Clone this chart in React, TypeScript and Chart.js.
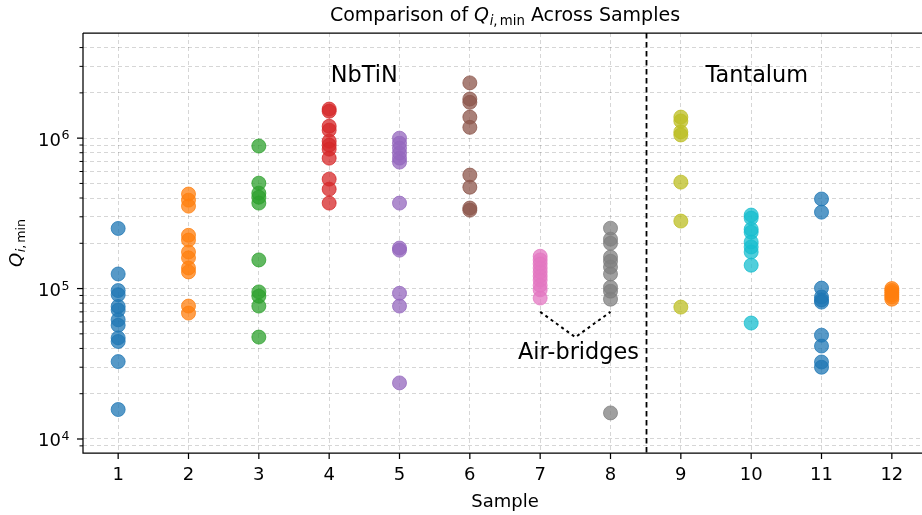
import React, { useEffect, useRef } from "react";
import { Chart, registerables } from "chart.js";

Chart.register(...registerables);

// ---------------- data ----------------
const sampleTicks = ["1", "2", "3", "4", "5", "6", "7", "8", "9", "10", "11", "12"];

const s1 = [251000, 125000, 97000, 91000, 76000, 72000, 62000, 57000, 47000, 44500, 32700, 15700];
const s2 = [425000, 387000, 353000, 226000, 210000, 175000, 160000, 137000, 129000, 76500, 68700];
const s3 = [886000, 502000, 431000, 405000, 370000, 155000, 95000, 89000, 76500, 47600];
const s4 = [1560000, 1510000, 1200000, 1130000, 955000, 899000, 845000, 736000, 534000, 458000, 370000];
const s5 = [1000000, 926000, 858000, 795000, 736000, 693000, 370000, 186000, 180000, 93000, 76500, 23600];
const s6 = [2330000, 1820000, 1730000, 1380000, 1180000, 568000, 472000, 343000, 332000];
const s7 = [164000, 155000, 146000, 137000, 129000, 121000, 114000, 105000, 98000, 86500];
const s8 = [252000, 213000, 200000, 162000, 152000, 139000, 125000, 102000, 96000, 85000, 14900];
const s9 = [1380000, 1300000, 1100000, 1050000, 510000, 281000, 75300];
const s10 = [308000, 294000, 248000, 237000, 204000, 189000, 175000, 143000, 59000];
const s11 = [394000, 322000, 100700, 87900, 84000, 81300, 49000, 41500, 32500, 30000];
const s12 = [100000, 97000, 94000, 91000, 88000, 85000];

const seriesValues = [s1, s2, s3, s4, s5, s6, s7, s8, s9, s10, s11, s12];
const seriesColors = [
  "31,119,180", "255,127,14", "44,160,44", "214,39,40", "148,103,189", "140,86,75",
  "227,119,194", "127,127,127", "188,189,34", "23,190,207", "31,119,180", "255,127,14",
];

const yTickExponents = [4, 5, 6];
const groupLabels = ["NbTiN", "Tantalum"];
const groupLabelX = [4.5, 10.08];
const groupLabelY = 2.35e6;
const airBridgeLabel = "Air-bridges";
const airBridgeLabelPos = [7.545, 3.4e4];
const airBridgePathX = [7, 7.5, 8];
const airBridgePathY = [7.0e4, 4.75e4, 7.0e4];
const dividerX = 8.5;
const titlePrefix = "Comparison of ";
const titleSuffix = " Across Samples";
const xAxisLabel = "Sample";

// ---------------- layout ----------------
const W = 940;
const H = 515;
const FONT = "'DejaVu Sans', sans-serif";
const GRID = "rgba(0,0,0,0.16)";

type Run = { t: string; font: string; dy: number; pad?: number };

function drawRuns(ctx: CanvasRenderingContext2D, runs: Run[], x: number, y: number, align: string) {
  const widths = runs.map((r) => {
    ctx.font = r.font;
    return ctx.measureText(r.t).width + (r.pad || 0);
  });
  const total = widths.reduce((a, b) => a + b, 0);
  let cx = align === "center" ? x - total / 2 : align === "right" ? x - total : x;
  ctx.textAlign = "left";
  ctx.textBaseline = "alphabetic";
  runs.forEach((r, i) => {
    ctx.font = r.font;
    ctx.fillText(r.t, cx, y + r.dy);
    cx += widths[i];
  });
}

function qRuns(size: number): Run[] {
  const sub = size * 0.7;
  const dy = size * 0.22;
  return [
    { t: "Q", font: `italic ${size}px ${FONT}`, dy: 0, pad: size * 0.03 },
    { t: "i", font: `italic ${sub}px ${FONT}`, dy },
    { t: ",", font: `${sub}px ${FONT}`, dy, pad: sub * 0.17 },
    { t: "min", font: `${sub}px ${FONT}`, dy },
  ];
}

const overlay = {
  id: "overlay",
  afterDatasetsDraw(chart: any) {
    const { ctx, chartArea: a, scales } = chart;
    const xs = scales.x;
    const ys = scales.y;
    ctx.save();
    ctx.fillStyle = "#000";
    ctx.strokeStyle = "#000";

    // divider
    ctx.lineWidth = 1.8;
    ctx.setLineDash([5.5, 3.5]);
    const dx = Math.round(xs.getPixelForValue(dividerX)) + 0.5;
    ctx.beginPath();
    ctx.moveTo(dx, a.top);
    ctx.lineTo(dx, a.bottom);
    ctx.stroke();

    // air-bridge pointer
    ctx.lineWidth = 2;
    ctx.setLineDash([3, 3.5]);
    ctx.beginPath();
    airBridgePathX.forEach((v, i) => {
      const px = xs.getPixelForValue(v);
      const py = ys.getPixelForValue(airBridgePathY[i]);
      if (i === 0) ctx.moveTo(px, py);
      else ctx.lineTo(px, py);
    });
    ctx.stroke();
    ctx.setLineDash([]);

    // annotations
    ctx.font = `22.4px ${FONT}`;
    ctx.textAlign = "center";
    ctx.textBaseline = "alphabetic";
    groupLabels.forEach((t, i) => {
      ctx.fillText(t, xs.getPixelForValue(groupLabelX[i]), ys.getPixelForValue(groupLabelY));
    });
    ctx.fillText(airBridgeLabel, xs.getPixelForValue(airBridgeLabelPos[0]), ys.getPixelForValue(airBridgeLabelPos[1]));

    // spines
    ctx.lineWidth = 1.25;
    ctx.beginPath();
    ctx.moveTo(a.left, a.top);
    ctx.lineTo(a.right, a.top);
    ctx.moveTo(a.left, a.top);
    ctx.lineTo(a.left, a.bottom);
    ctx.lineTo(a.right, a.bottom);
    ctx.stroke();

    // x ticks
    ctx.font = `18px ${FONT}`;
    ctx.textAlign = "center";
    sampleTicks.forEach((lab, i) => {
      const px = xs.getPixelForValue(i + 1);
      ctx.beginPath();
      ctx.moveTo(px, a.bottom);
      ctx.lineTo(px, a.bottom + 6);
      ctx.stroke();
      ctx.fillText(lab, px, a.bottom + 27);
    });

    // y ticks
    ys.ticks.forEach((t: any) => {
      const v = t.value;
      const e = Math.log10(v);
      const major = Math.abs(e - Math.round(e)) < 1e-9;
      const py = ys.getPixelForValue(v);
      ctx.lineWidth = major ? 1.25 : 1;
      ctx.beginPath();
      ctx.moveTo(a.left - (major ? 6 : 3.5), py);
      ctx.lineTo(a.left, py);
      ctx.stroke();
    });
    yTickExponents.forEach((ex) => {
      const py = ys.getPixelForValue(Math.pow(10, ex));
      drawRuns(
        ctx,
        [
          { t: "10", font: `18px ${FONT}`, dy: 0, pad: 0.5 },
          { t: String(ex), font: `12.6px ${FONT}`, dy: -6.5 },
        ],
        a.left - 13.5,
        py + 7.5,
        "right"
      );
    });

    // axis labels
    ctx.font = `18px ${FONT}`;
    ctx.textAlign = "center";
    ctx.fillText(xAxisLabel, (a.left + a.right) / 2, 506.5);

    ctx.save();
    ctx.translate(21.5, (a.top + a.bottom) / 2);
    ctx.rotate(-Math.PI / 2);
    drawRuns(ctx, qRuns(18), 0, 0, "center");
    ctx.restore();

    // title
    const tsize = 19;
    const titleRuns: Run[] = [
      { t: titlePrefix, font: `${tsize}px ${FONT}`, dy: 0 },
      ...qRuns(tsize),
      { t: titleSuffix, font: `${tsize}px ${FONT}`, dy: 0 },
    ];
    drawRuns(ctx, titleRuns, (a.left + a.right) / 2, 20.5, "center");

    ctx.restore();
  },
};

export default function App() {
  const ref = useRef<HTMLCanvasElement | null>(null);

  useEffect(() => {
    if (!ref.current) return;
    const datasets = seriesValues.map((vals, i) => ({
      label: sampleTicks[i],
      data: vals.map((v) => ({ x: i + 1, y: v })),
      backgroundColor: `rgba(${seriesColors[i]},0.75)`,
      borderColor: `rgba(${seriesColors[i]},0.75)`,
      borderWidth: 1,
      pointRadius: 7,
      pointHoverRadius: 7,
    }));

    const chart = new Chart(ref.current, {
      type: "scatter",
      data: { datasets },
      options: {
        responsive: false,
        animation: false,
        devicePixelRatio: 1,
        events: [],
        layout: { padding: { top: 33, right: W - 927, left: 0, bottom: 0 } },
        plugins: {
          legend: { display: false },
          tooltip: { enabled: false },
          title: { display: false },
        },
        scales: {
          x: {
            type: "linear",
            min: 0.5,
            max: 12.5,
            afterBuildTicks: (s: any) => {
              s.ticks = sampleTicks.map((_, i) => ({ value: i + 1 }));
            },
            ticks: { display: false },
            grid: { color: GRID, lineWidth: 1, drawTicks: false },
            border: { display: false, dash: [4, 3] },
            afterFit: (s: any) => {
              s.height = 62;
            },
          },
          y: {
            type: "logarithmic",
            min: 8070,
            max: 5e6,
            afterBuildTicks: (s: any) => {
              const ticks: any[] = [];
              for (let e = 3; e <= 6; e++) {
                for (let m = 1; m <= 9; m++) {
                  const v = m * Math.pow(10, e);
                  if (v > 8070 && v < 5e6) ticks.push({ value: v, major: m === 1 });
                }
              }
              s.ticks = ticks;
            },
            ticks: { display: false },
            grid: { color: GRID, lineWidth: 1, drawTicks: false },
            border: { display: false, dash: [4, 3] },
            afterFit: (s: any) => {
              s.width = 83;
            },
          },
        },
      },
      plugins: [overlay],
    } as any);

    return () => chart.destroy();
  }, []);

  return (
    <div
      style={{
        position: "fixed",
        left: 0,
        top: 0,
        width: 922,
        height: 515,
        overflow: "hidden",
        background: "#fff",
      }}
    >
      <canvas ref={ref} width={W} height={H} style={{ display: "block", width: W, height: H }} />
    </div>
  );
}
